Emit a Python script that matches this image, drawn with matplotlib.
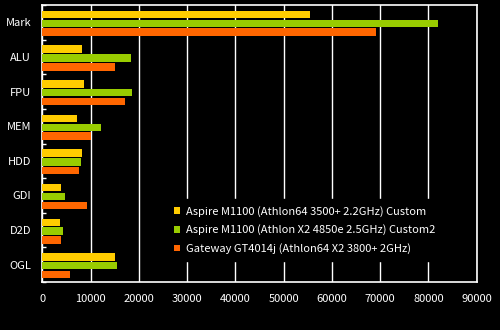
import matplotlib
matplotlib.use("Agg")
import matplotlib.pyplot as plt
import numpy as np

plt.rcParams['font.family'] = ['Noto Sans CJK JP', 'DejaVu Sans']

categories = ["Mark", "ALU", "FPU", "MEM", "HDD", "GDI", "D2D", "OGL"]
series_names = [
    "Aspire M1100 (Athlon64 3500+ 2.2GHz) Custom",
    "Aspire M1100 (Athlon X2 4850e 2.5GHz) Custom2",
    "Gateway GT4014j (Athlon64 X2 3800+ 2GHz)",
]
aspire_custom = [55400, 8300, 8650, 7200, 8250, 3900, 3650, 15100]
aspire_custom2 = [82000, 18450, 18600, 12150, 8050, 4700, 4300, 15500]
gateway = [69100, 15150, 17150, 10100, 7600, 9250, 3900, 5750]
x_ticks = [0, 10000, 20000, 30000, 40000, 50000, 60000, 70000, 80000, 90000]

colors = ["#FFCC00", "#99CC00", "#FF6600"]
series = [aspire_custom, aspire_custom2, gateway]

fig = plt.figure(figsize=(5.0, 3.3), dpi=100, facecolor="black")
ax = fig.add_axes([0.0846, 0.1455, 0.8688, 0.8393], facecolor="black")

y = np.arange(len(categories))
bar_h = 0.215
step = 0.255
shift = 0.03
for k, (vals, col, name) in enumerate(zip(series, colors, series_names)):
    ax.barh(y + shift + (k - 1) * step, vals, height=bar_h, color=col,
            label=name, zorder=3, linewidth=0)

ax.set_xlim(0, 90000)
ax.set_ylim(len(categories) - 0.5, -0.5)
ax.set_xticks(x_ticks)
ax.set_xticklabels([str(t) for t in x_ticks])
ax.set_yticks(y)
ax.set_yticklabels(categories)
ax.set_yticks(np.arange(len(categories) + 1) - 0.5, minor=True)

ax.grid(axis="x", color="white", linewidth=1.0, zorder=1)
ax.set_axisbelow(True)
for sp in ax.spines.values():
    sp.set_color("white")
    sp.set_linewidth(1.2)

ax.tick_params(axis="x", colors="white", length=0, pad=9, labelsize=8)
ax.tick_params(axis="y", which="major", colors="white", length=0, pad=8, labelsize=8)
ax.tick_params(axis="y", which="minor", colors="white", direction="in", length=3, width=1)

leg = ax.legend(loc="center left", bbox_to_anchor=(0.275, 0.188), frameon=True,
                facecolor="black", edgecolor="black", framealpha=1.0,
                fontsize=8, handlelength=0.55, handleheight=0.55,
                handletextpad=0.5, labelspacing=0.7, borderpad=0.6)
for t in leg.get_texts():
    t.set_color("white")
leg.set_zorder(4)

fig.savefig("out.png", dpi=100, facecolor="black")
